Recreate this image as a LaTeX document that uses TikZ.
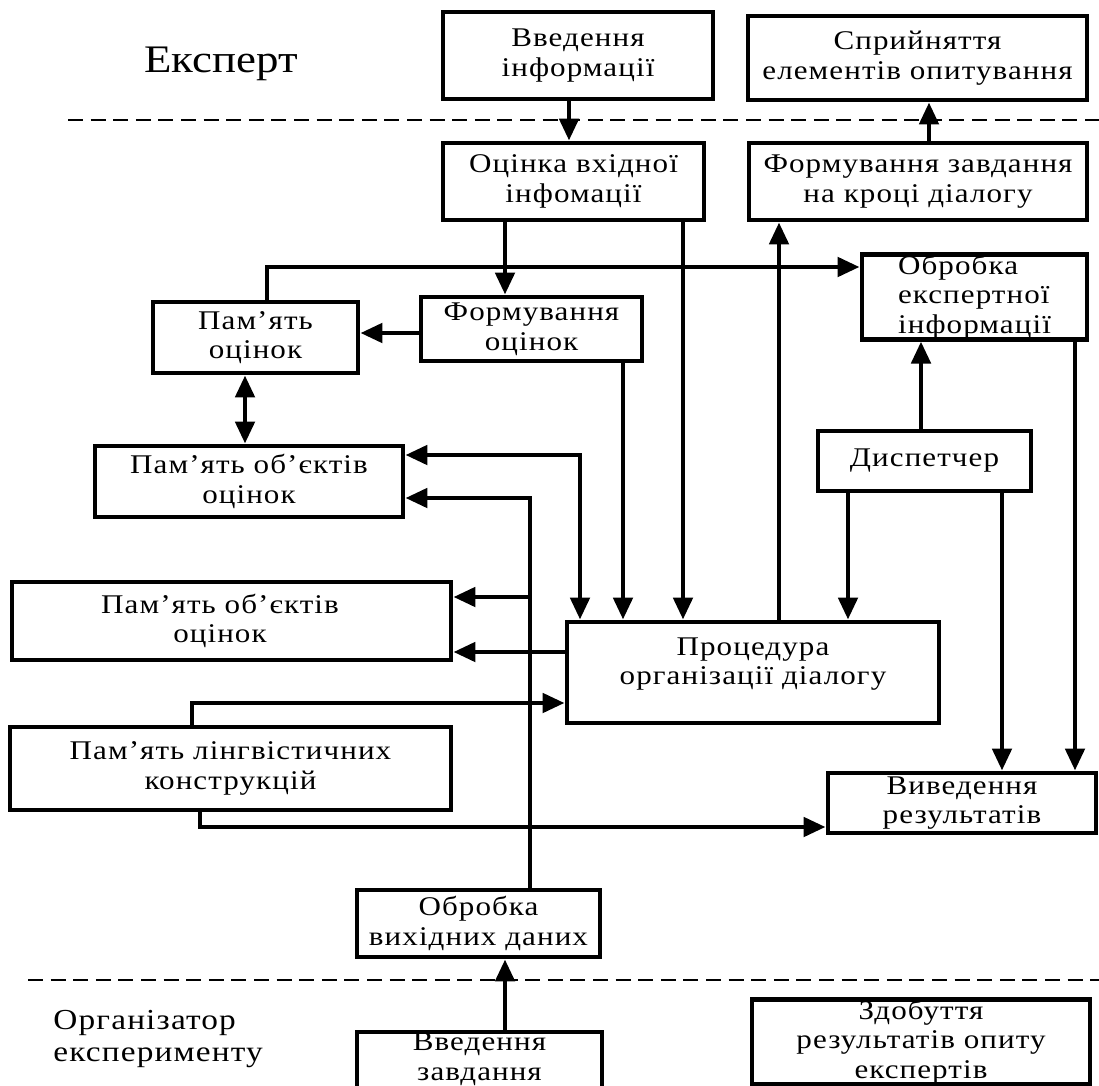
\documentclass[tikz,border=0pt]{standalone}
\usepackage{fontspec}
\setmainfont{Liberation Serif}[FakeStretch=1.15,LetterSpace=4]
\usetikzlibrary{arrows.meta}
\begin{document}
\begin{tikzpicture}[x=0.5pt,y=-0.5pt,
  box/.style={draw, line width=2.4pt, rectangle, inner sep=0pt, align=center,
              font=\fontsize{13.5}{14.8}\selectfont},
  boxtext/.style={inner sep=0pt, align=center, font=\fontsize{13.5}{14.8}\selectfont},
  conn/.style={line width=2.4pt},
  arr/.style={conn, -{Triangle[length=11pt,width=9.5pt]}},
  darr/.style={conn, {Triangle[length=11pt,width=9.5pt]}-{Triangle[length=11pt,width=9.5pt]}},
  dashline/.style={line width=1.4pt, dash pattern=on 7.5pt off 3.8pt},
  lbl/.style={inner sep=0pt, align=left}]
\clip (0,0) rectangle (1099,1086);
\fill[white] (0,0) rectangle (1099,1086);

% column and row helpers
\foreach \c in {192,200,245,267,505,530,569,580,623,683,779,848,921,929,1002,1075}
  {\coordinate (k\c) at (\c,0);}
\foreach \r in {267,333,455,498,597,652,703,827}
  {\coordinate (r\r) at (0,\r);}

% dashed separators
\coordinate (d1a) at (68,120);  \coordinate (d1b) at (1099,120);
\coordinate (d2a) at (28,980);  \coordinate (d2b) at (1099,980);
\draw[dashline] (d1a) -- (d1b);
\draw[dashline] (d2a) -- (d2b);

% labels
\node[lbl, anchor=base west, font=\fontsize{19.5}{22}\selectfont\addfontfeature{LetterSpace=0}] (expert) at (144,73) {Експерт};
\node[lbl, anchor=west, font=\fontsize{14.5}{16}\selectfont] (org) at (53,1039) {Організатор\\експерименту};

% boxes
\node[box, minimum width=135pt, minimum height=43.5pt] (vvedinf) at (578,55.5) {Введення\\інформації};
\node[box, minimum width=169.5pt, minimum height=42pt] (spryin) at (917.5,58) {Сприйняття\\елементів опитування};
\node[box, minimum width=130.5pt, minimum height=38.5pt] (ocinka) at (573.5,181.5) {Оцінка вхідної\\інфомації};
\node[box, minimum width=169pt, minimum height=38.5pt] (formzav) at (918,181.5) {Формування завдання\\на кроці діалогу};
\node[box, minimum width=102.5pt, minimum height=35.5pt] (pamoc) at (255.5,337.5) {Пам’ять\\оцінок};
\node[box, minimum width=110.5pt, minimum height=32pt] (formoc) at (531.5,329) {Формування\\оцінок};
\node[box, minimum width=112.5pt, minimum height=40pt, align=left] (obrexp) at (974.5,297) {Обробка\\експертної\\інформації};
\node[box, minimum width=154pt, minimum height=35.5pt] (pamob1) at (249,481.5) {Пам’ять об’єктів\\оцінок};
\node[box, minimum width=106.5pt, minimum height=30pt] (disp) at (924.5,461) {Диспетчер};
\node[box, minimum width=219.5pt, minimum height=39pt] (pamob2) at (231.5,621) {};
\node[boxtext] (pamob2t) at (220,621) {Пам’ять об’єктів\\оцінок};
\node[box, minimum width=186pt, minimum height=50.5pt] (proc) at (753,672.5) {};
\node[boxtext] (proct) at (753,664) {Процедура\\організації діалогу};
\node[box, minimum width=220.5pt, minimum height=41.5pt] (paml) at (230.5,768.5) {Пам’ять лінгвістичних\\конструкцій};
\node[box, minimum width=134pt, minimum height=30pt] (vyved) at (962,803) {Виведення\\результатів};
\node[box, minimum width=121.5pt, minimum height=33.5pt] (obrvyh) at (478.5,923.5) {Обробка\\вихідних даних};
\node[box, minimum width=122.5pt, minimum height=31.5pt] (vvedzav) at (479.5,1063.5) {};
\node[boxtext] (vvedzavt) at (479.5,1059) {Введення\\завдання};
\node[box, minimum width=169pt, minimum height=42pt] (zdob) at (921,1042) {Здобуття\\результатів опиту\\експертів};

% connectors
\draw[arr] (k569 |- vvedinf.south) -- (k569 |- ocinka.north);
\draw[arr] (k505 |- ocinka.south) -- (k505 |- formoc.north);
\draw[arr] (k683 |- ocinka.south) -- (k683 |- proc.north);
\draw[arr] (k779 |- proc.north) -- (k779 |- formzav.south);
\draw[arr] (k929 |- formzav.north) -- (k929 |- spryin.south);
\draw[arr] (k267 |- pamoc.north) -- (k267 |- r267) -- (obrexp.west |- r267);
\draw[arr] (formoc.west |- r333) -- (pamoc.east |- r333);
\draw[arr] (k623 |- formoc.south) -- (k623 |- proc.north);
\draw[darr] (k245 |- pamoc.south) -- (k245 |- pamob1.north);
\draw[darr] (pamob1.east |- r455) -- (k580 |- r455) -- (k580 |- proc.north);
\draw[arr] (k530 |- obrvyh.north) -- (k530 |- r498) -- (pamob1.east |- r498);
\draw[arr] (k530 |- r597) -- (pamob2.east |- r597);
\draw[arr] (proc.west |- r652) -- (pamob2.east |- r652);
\draw[arr] (k192 |- paml.north) -- (k192 |- r703) -- (proc.west |- r703);
\draw[arr] (k200 |- paml.south) -- (k200 |- r827) -- (vyved.west |- r827);
\draw[arr] (k921 |- disp.north) -- (k921 |- obrexp.south);
\draw[arr] (k848 |- disp.south) -- (k848 |- proc.north);
\draw[arr] (k1002 |- disp.south) -- (k1002 |- vyved.north);
\draw[arr] (k1075 |- obrexp.south) -- (k1075 |- vyved.north);
\draw[arr] (k505 |- vvedzav.north) -- (k505 |- obrvyh.south);
\end{tikzpicture}
\end{document}
